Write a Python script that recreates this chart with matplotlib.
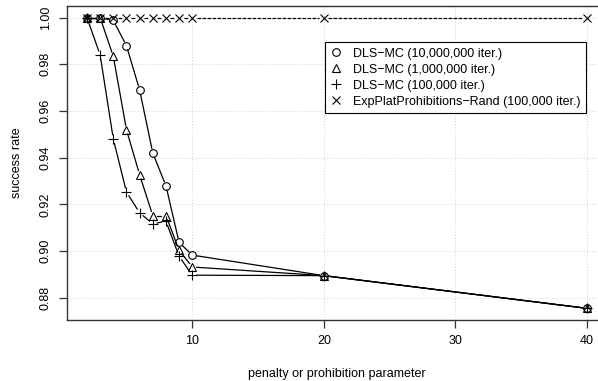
import numpy as np
from matplotlib import pyplot as plt

plt.rcParams.update({
    'font.family': ['Liberation Sans', 'DejaVu Sans'],
    'font.size': 9,
})

param = [2, 3, 4, 5, 6, 7, 8, 9, 10, 20, 40]
dls_10m = [1.0, 1.0, 0.9988, 0.988, 0.969, 0.942, 0.928, 0.9037, 0.8983, 0.8895, 0.8755]
dls_1m = [1.0, 1.0, 0.9834, 0.952, 0.9327, 0.9152, 0.9152, 0.9004, 0.8932, 0.8895, 0.8755]
dls_100k = [1.0, 0.984, 0.948, 0.9253, 0.9164, 0.9117, 0.9128, 0.8978, 0.8897, 0.8895, 0.8755]
expplat = [1.0] * 11

labels = ['DLS\u2212MC (10,000,000 iter.)', 'DLS\u2212MC (1,000,000 iter.)',
          'DLS\u2212MC (100,000 iter.)', 'ExpPlatProhibitions\u2212Rand (100,000 iter.)']
markers = ['o', '^', '+', 'x']
series = [dls_10m, dls_1m, dls_100k, expplat]


def gapped_line(ax, x, y, gap=4.5, **kw):
    # R style type="b": lines stop short of the points
    pts = ax.transData.transform(np.column_stack([x, y]))
    inv = ax.transData.inverted()
    for p, q in zip(pts[:-1], pts[1:]):
        d = q - p
        n = np.hypot(*d)
        if n <= 2 * gap:
            continue
        u = d / n
        a = inv.transform(p + u * gap)
        b = inv.transform(q - u * gap)
        ax.plot([a[0], b[0]], [a[1], b[1]], color='black', lw=0.9, **kw)


fig = plt.figure(figsize=(5.98, 3.81), dpi=100)
ax = fig.add_axes([67 / 598, 61 / 381, 540 / 598, 314 / 381])
ax.set_xlim(0.48, 41.52)
ax.set_ylim(0.8705, 1.005)

ax.set_xticks([10, 20, 30, 40])
ax.set_yticks([0.88, 0.90, 0.92, 0.94, 0.96, 0.98, 1.00])
ax.set_yticklabels(['0.88', '0.90', '0.92', '0.94', '0.96', '0.98', '1.00'],
                   rotation=90, va='center')
ax.grid(True, color='#d0d0d0', linestyle=(0, (1, 2)), lw=0.7)
ax.set_axisbelow(True)
for s in ax.spines.values():
    s.set_color('#333333')
    s.set_linewidth(1.0)
ax.tick_params(direction='out', length=6, width=0.9, color='#333333', pad=5)

for vals, m in zip(series[:3], markers[:3]):
    gapped_line(ax, param, vals)
gapped_line(ax, param, expplat, linestyle=(0, (3, 1)))

handles = []
for vals, m, lab in zip(series, markers, labels):
    ms = 7 if m == '+' else 5.5
    h, = ax.plot(param, vals, linestyle='none', marker=m, markersize=ms,
                 markerfacecolor='none', markeredgecolor='black',
                 markeredgewidth=0.8, label=lab)
    handles.append(h)

leg = ax.legend(handles=handles, loc='upper left', bbox_to_anchor=(0.478, 0.885),
                borderaxespad=0, frameon=True, fancybox=False, edgecolor='black',
                framealpha=1, handlelength=0.8, handletextpad=1.0, borderpad=0.45,
                labelspacing=0.32, fontsize=9)
leg.get_frame().set_linewidth(0.8)

ax.set_xlabel('penalty or prohibition parameter', labelpad=15)
ax.set_ylabel('success rate', labelpad=12)

fig.savefig('out.png', dpi=100)
